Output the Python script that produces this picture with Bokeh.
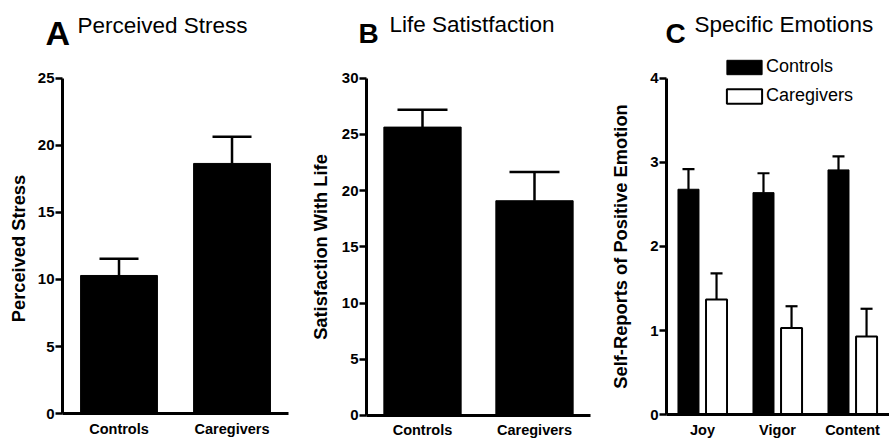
from bokeh.plotting import figure
from bokeh.models import (ColumnDataSource, Range1d, Whisker, TeeHead, Label,
                          FixedTicker, Legend, LegendItem)
from bokeh.layouts import row
from bokeh.embed import file_html
from bokeh.resources import INLINE

# ---------------- data ----------------
groups_ab = ["Controls", "Caregivers"]
stress_mean = [10.3, 18.66]
stress_err = [1.24, 2.0]
life_mean = [25.65, 19.1]
life_err = [1.55, 2.55]

emotions = ["Joy", "Vigor", "Content"]
ctrl_mean = [2.68, 2.64, 2.91]
ctrl_err = [0.24, 0.23, 0.16]
care_mean = [1.37, 1.03, 0.93]
care_err = [0.31, 0.26, 0.33]

stress_ticks = [0, 5, 10, 15, 20, 25]
life_ticks = [0, 5, 10, 15, 20, 25, 30]
emotion_ticks = [0, 1, 2, 3, 4]

FONT = "Liberation Sans"
H = 439


def make_fig(width, xview, yview):
    p = figure(width=width, height=H, x_range=Range1d(*xview), y_range=Range1d(*yview),
               output_backend="svg", toolbar_location=None, title=None,
               min_border_left=0, min_border_right=0, min_border_top=0, min_border_bottom=0)
    p.outline_line_color = None
    p.xgrid.visible = False
    p.ygrid.visible = False
    p.background_fill_color = "white"
    p.border_fill_color = "white"
    return p


def style(p, ylabel, yticks, ymax, yaxis_at, xbounds, xticks, xlabels, label_standoff):
    ya = p.yaxis[0]
    ya.fixed_location = yaxis_at
    ya.ticker = FixedTicker(ticks=yticks)
    ya.bounds = (0, ymax)
    ya.axis_label = ylabel
    ya.axis_label_text_font = FONT
    ya.axis_label_text_font_size = "18.3px"
    ya.axis_label_text_font_style = "bold"
    ya.axis_label_text_color = "black"
    ya.axis_label_standoff = label_standoff
    ya.major_label_text_font = FONT
    ya.major_label_text_font_size = "15px"
    ya.major_label_text_font_style = "bold"
    ya.major_label_text_color = "black"
    ya.major_label_standoff = 1
    ya.major_tick_out = 7
    ya.major_tick_in = 0
    ya.minor_tick_out = 0
    ya.minor_tick_in = 0
    ya.axis_line_width = 3
    ya.major_tick_line_width = 2.5
    ya.axis_line_color = "black"
    ya.major_tick_line_color = "black"
    xa = p.xaxis[0]
    xa.fixed_location = 0
    xa.bounds = xbounds
    xa.ticker = FixedTicker(ticks=xticks)
    xa.major_label_overrides = {q: t for q, t in zip(xticks, xlabels)}
    xa.axis_line_width = 3
    xa.axis_line_color = "black"
    xa.major_tick_out = 0
    xa.major_tick_in = 0
    xa.minor_tick_out = 0
    xa.minor_tick_in = 0
    xa.major_label_text_font = FONT
    xa.major_label_text_font_size = "14.5px"
    xa.major_label_text_font_style = "bold"
    xa.major_label_text_color = "black"
    xa.major_label_standoff = 7


def titles(p, letter, text, lx, ly, tx, ty, lsize):
    p.add_layout(Label(x=lx, y=ly, x_units="screen", y_units="data", text=letter,
                       text_font=FONT, text_font_size=lsize, text_font_style="bold",
                       text_color="black", text_baseline="alphabetic"))
    p.add_layout(Label(x=tx, y=ty, x_units="screen", y_units="data", text=text,
                       text_font=FONT, text_font_size="22.5px", text_color="black",
                       text_baseline="alphabetic"))


def simple_panel(width, xview, yview, cats, means, errs, ymax, ticks, ylabel, cap, bw,
                 standoff):
    p = make_fig(width, xview, yview)
    pos = [i + 1 for i in range(len(cats))]
    src = ColumnDataSource(dict(x=pos, m=means, up=[m + e for m, e in zip(means, errs)]))
    p.vbar(x="x", top="m", bottom=0, width=bw, source=src, fill_color="black",
           line_color="black")
    p.add_layout(Whisker(base="x", lower="m", upper="up", source=src, dimension="height",
                         lower_head=None,
                         upper_head=TeeHead(size=cap, line_width=2.5, line_color="black"),
                         line_width=2.5, line_color="black", level="overlay"))
    style(p, ylabel, ticks, ymax, 0.5, (0.5, len(cats) + 0.5), pos, cats, standoff)
    return p


# ---------------- panel A ----------------
pA = simple_panel(300, (-0.0487, 2.606), (-1.94, 30.82), groups_ab, stress_mean, stress_err,
                  25, stress_ticks, "Perceived  Stress", 39, 0.68, 6)
titles(pA, "A", "Perceived Stress", 45, 28.36, 77, 28.95, "34px")

# ---------------- panel B ----------------
pB = simple_panel(296, (-0.0893, 2.5536), (-2.135, 36.91), groups_ab, life_mean, life_err,
                  30, life_ticks, "Satisfaction With Life", 50, 0.69, 8)
titles(pB, "B", "Life Satistfaction", 58, 33.98, 89, 34.78, "28px")

# ---------------- panel C ----------------
pos = [i + 1 for i in range(len(emotions))]
off = 0.187
pC = make_fig(293, (-0.4133, 3.493), (-0.2935, 4.923))
srcc = ColumnDataSource(dict(x=[q - off for q in pos], m=ctrl_mean,
                             up=[m + e for m, e in zip(ctrl_mean, ctrl_err)]))
srck = ColumnDataSource(dict(x=[q + off for q in pos], m=care_mean,
                             up=[m + e for m, e in zip(care_mean, care_err)]))
rc = pC.vbar(x="x", top="m", bottom=0, width=0.28, source=srcc, fill_color="black",
             line_color="black")
rk = pC.vbar(x="x", top="m", bottom=0, width=0.28, source=srck, fill_color="white",
             line_color="black", line_width=2)
for s in (srcc, srck):
    pC.add_layout(Whisker(base="x", lower="m", upper="up", source=s, dimension="height",
                          lower_head=None,
                          upper_head=TeeHead(size=12, line_width=2.2, line_color="black"),
                          line_width=2.2, line_color="black", level="overlay"))
style(pC, "Self-Reports of Positive Emotion", emotion_ticks, 4, 0.52, (0.52, 3.493),
      pos, emotions, 16)
titles(pC, "C", "Specific Emotions", 69, 4.53, 98, 4.635, "28px")

legend = Legend(items=[LegendItem(label="Controls", renderers=[rc]),
                       LegendItem(label="Caregivers", renderers=[rk])],
                location=(126, 333), glyph_width=44, glyph_height=18, label_height=21,
                label_standoff=0, spacing=8, padding=0, margin=0,
                border_line_color=None, background_fill_alpha=0,
                label_text_font=FONT, label_text_font_size="18px", label_text_color="black")
pC.add_layout(legend)

layout = row(pA, pB, pC, spacing=0)
open("out.html", "w").write(file_html(layout, INLINE))
